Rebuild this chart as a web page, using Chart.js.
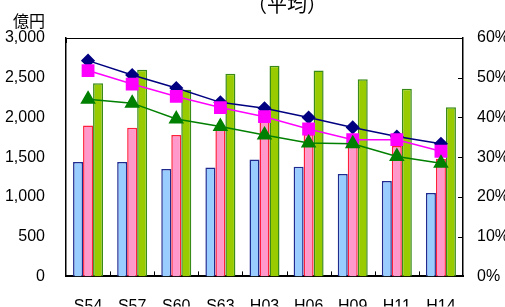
<!DOCTYPE html>
<html>
<head>
<meta charset="utf-8">
<script src="https://cdn.jsdelivr.net/npm/chart.js@4"></script>
<style>
  html, body { margin: 0; padding: 0; background: #fff; }
  #wrap { width: 505px; height: 307px; position: relative; }
</style>
</head>
<body>
<div id="wrap"><canvas id="chart"></canvas></div>
<script>
// categories and values
const categories = ['S54', 'S57', 'S60', 'S63', 'H03', 'H06', 'H09', 'H11', 'H14'];

// bars, left axis (億円)
const barBlue  = [1440, 1440, 1350, 1370, 1470, 1380, 1290, 1200, 1050];
const barPink  = [1900, 1870, 1780, 1850, 1950, 1790, 1730, 1640, 1480];
const barGreen = [2430, 2600, 2350, 2550, 2650, 2590, 2480, 2360, 2130];

// lines, right axis (%)
const lineNavy    = [54.3, 50.7, 47.4, 43.8, 42.3, 40.0, 37.5, 35.2, 33.4];
const lineMagenta = [51.8, 48.4, 45.3, 42.5, 40.2, 37.1, 34.4, 34.4, 31.5];
const lineGreen   = [44.6, 43.6, 39.6, 37.7, 35.6, 33.6, 33.4, 30.2, 28.5];

const numFont = 'Liberation Sans, Arial, sans-serif';
const jpFont = '"Noto Sans CJK JP", sans-serif';

// frame top line, inward ticks on right axis, upward ticks on x axis, texts
const decorations = {
    id: 'decorations',
    afterDraw(chart) {
        const ctx = chart.ctx;
        const a = chart.chartArea;
        const y1 = chart.scales.y1;
        const x = chart.scales.x;
        ctx.save();
        ctx.strokeStyle = '#000';
        ctx.lineWidth = 1;
        // top frame line with short end ticks
        ctx.beginPath();
        ctx.moveTo(a.left, a.top + 0.5);
        ctx.lineTo(a.right, a.top + 0.5);
        ctx.moveTo(a.left + 0.5, a.top);
        ctx.lineTo(a.left + 0.5, a.top + 5);
        ctx.stroke();
        // right axis ticks pointing inward
        ctx.beginPath();
        for (let v = 0; v <= 60; v += 10) {
            const py = Math.round(y1.getPixelForValue(v)) + 0.5;
            ctx.moveTo(a.right - 5, py);
            ctx.lineTo(a.right, py);
        }
        ctx.stroke();
        // x axis ticks between categories, pointing up
        ctx.beginPath();
        for (let i = 1; i < categories.length; i++) {
            const px = Math.round((x.getPixelForValue(i - 1) + x.getPixelForValue(i)) / 2) + 0.5;
            ctx.moveTo(px, a.bottom);
            ctx.lineTo(px, a.bottom - 5);
        }
        ctx.stroke();
        // title and unit
        ctx.fillStyle = '#000';
        ctx.textAlign = 'center';
        ctx.textBaseline = 'alphabetic';
        ctx.font = '20px ' + jpFont;
        ctx.fillText('（平均）', 287, 12);
        ctx.font = '16px ' + jpFont;
        ctx.fillText('億円', 29, 27);
        ctx.restore();
    }
};

function barSet(label, data, fill, border) {
    return {
        type: 'bar', label, data, yAxisID: 'y',
        backgroundColor: fill, borderColor: border, borderWidth: 1.5,
        categoryPercentage: 0.68, barPercentage: 1.0, order: 10
    };
}

function lineSet(label, data, color, style, radius, order) {
    return {
        type: 'line', label, data, yAxisID: 'y1',
        borderColor: color, backgroundColor: color, borderWidth: 1.5,
        pointStyle: style, pointRadius: radius, pointBorderColor: color,
        pointBackgroundColor: color, tension: 0, fill: false, order
    };
}

new Chart(document.getElementById('chart'), {
    data: {
        labels: categories,
        datasets: [
            barSet('blue', barBlue, '#99ccff', '#1f2b8f'),
            barSet('pink', barPink, '#ff99cc', '#ff1f3a'),
            barSet('green', barGreen, '#99cc00', '#3a8a1a'),
            lineSet('navy', lineNavy, '#000080', 'rectRot', 6, 3),
            lineSet('magenta', lineMagenta, '#ff00ff', 'rect', 8, 2),
            lineSet('green line', lineGreen, '#008000', 'triangle', 7.5, 1)
        ]
    },
    options: {
        responsive: true,
        maintainAspectRatio: false,
        animation: false,
        layout: { padding: { top: 38, left: 0, right: 0, bottom: 0 } },
        plugins: {
            legend: { display: false },
            tooltip: { enabled: false }
        },
        scales: {
            x: {
                offset: true,
                grid: { display: false, drawTicks: false },
                border: { color: '#000', width: 2 },
                ticks: { color: '#000', font: { family: numFont, size: 16 }, padding: 21, maxRotation: 0 },
                afterFit: s => { s.height = 30; }
            },
            y: {
                position: 'left',
                min: 0, max: 3000,
                grid: { display: false, drawTicks: false },
                border: { color: '#000', width: 1.5 },
                ticks: {
                    stepSize: 500, color: '#000', padding: 21,
                    font: { family: numFont, size: 16 },
                    callback: v => v.toLocaleString('en-US')
                },
                afterFit: s => { s.width = 66; }
            },
            y1: {
                position: 'right',
                min: 0, max: 60,
                grid: { display: false, drawTicks: false },
                border: { color: '#000', width: 1.5 },
                ticks: {
                    stepSize: 10, color: '#000', padding: 14,
                    font: { family: numFont, size: 16 },
                    callback: v => v + '%'
                },
                afterFit: s => { s.width = 42; }
            }
        }
    },
    plugins: [decorations]
});
</script>
</body>
</html>
